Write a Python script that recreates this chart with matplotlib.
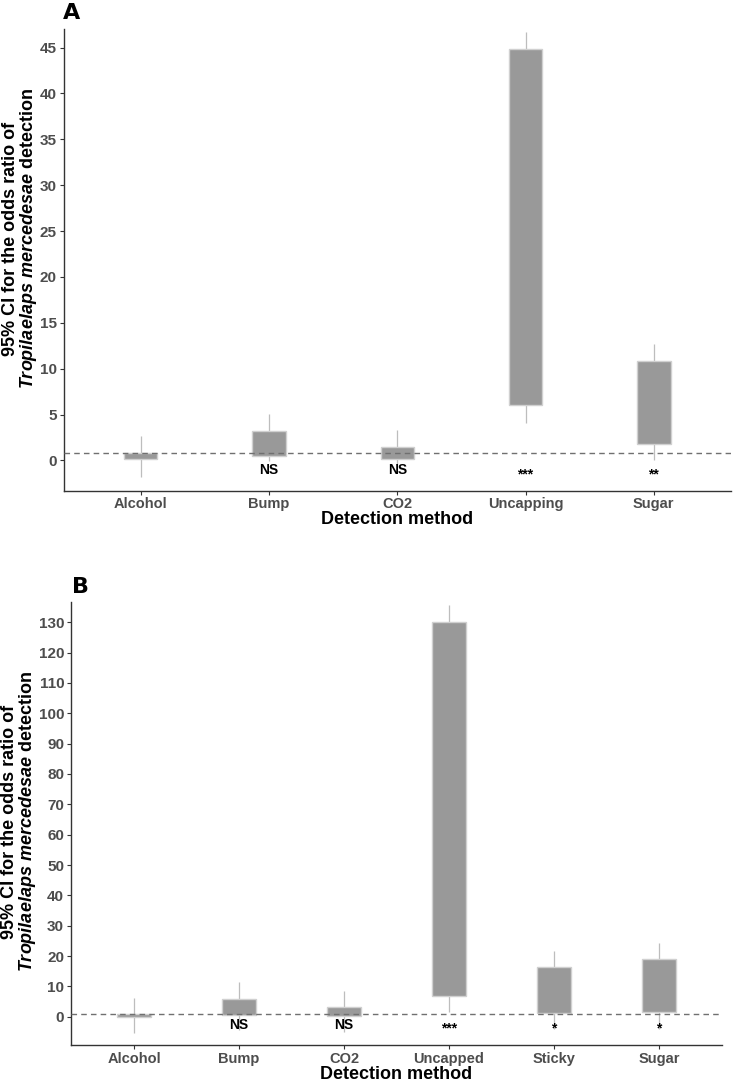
import matplotlib
matplotlib.use("Agg")
import matplotlib.pyplot as plt

plt.rcParams['font.family'] = ['Liberation Sans', 'DejaVu Sans']
plt.rcParams['mathtext.fontset'] = 'custom'
plt.rcParams['mathtext.it'] = 'Liberation Sans:italic:bold'
plt.rcParams['mathtext.rm'] = 'Liberation Sans:bold'
plt.rcParams['mathtext.bf'] = 'Liberation Sans:bold'

# Panel A data (odds ratio 95% CI)
methods_a = ["Alcohol", "Bump", "CO2", "Uncapping", "Sugar"]
a_low = [-1.8, -0.1, -0.5, 4.1, 0.1]
a_lower = [0.18, 0.54, 0.2, 6.0, 1.8]
a_upper = [0.83, 3.2, 1.45, 44.8, 10.8]
a_high = [2.7, 5.1, 3.3, 46.7, 12.7]
a_sig = ["", "NS", "NS", "***", "**"]

# Panel B data
methods_b = ["Alcohol", "Bump", "CO2", "Uncapped", "Sticky", "Sugar"]
b_low = [-5.3, -4.5, -5.1, 1.7, -4.0, -4.0]
b_lower = [0.0, 0.6, 0.2, 6.9, 1.25, 1.5]
b_upper = [0.8, 6.0, 3.3, 130.0, 16.3, 19.1]
b_high = [6.2, 11.4, 8.5, 135.8, 21.6, 24.4]
b_sig = ["", "NS", "NS", "***", "*", "*"]

ylabel = ("95% CI for the odds ratio of\n"
          r"$\it{Tropilaelaps}$ $\it{mercedesae}$ detection")


def draw_panel(ax, methods, low, lower, upper, high, sig, width, ref, ylim,
               ticks, ns_y, star_y):
    x = list(range(1, len(methods) + 1))
    ax.vlines(x, low, high, color="#bdbdbd", lw=0.9, zorder=1)
    heights = [u - l for u, l in zip(upper, lower)]
    ax.bar(x, heights, bottom=lower, width=width, color="#999999",
           edgecolor="#d0d0d0", linewidth=1.0, zorder=2)
    ax.axhline(ref, color="#707070", lw=1.0, ls=(0, (4, 3)), zorder=3)
    for xi, s in zip(x, sig):
        if not s:
            continue
        yy = ns_y if s == "NS" else star_y
        ax.text(xi, yy, s, ha="center", va="center", fontsize=10,
                fontweight="bold", color="black", zorder=4)
    ax.set_xlim(0.4, len(methods) + 0.6)
    ax.set_ylim(*ylim)
    ax.set_yticks(ticks)
    ax.set_xticks(x)
    ax.set_xticklabels(methods)
    for sp in ["top", "right"]:
        ax.spines[sp].set_visible(False)
    for sp in ["left", "bottom"]:
        ax.spines[sp].set_color("#333333")
        ax.spines[sp].set_linewidth(1.0)
    ax.tick_params(axis="x", length=3, color="#333333", labelsize=10.5,
                   labelcolor="#4d4d4d", pad=1.5)
    ax.tick_params(axis="y", length=3, color="#333333", labelsize=11,
                   labelcolor="#4d4d4d", pad=2)
    for lab in ax.get_xticklabels() + ax.get_yticklabels():
        lab.set_fontweight("bold")
    ax.set_xlabel("Detection method", fontsize=13, fontweight="bold",
                  labelpad=0)


fig = plt.figure(figsize=(7.33, 10.81), dpi=100)

ax_a = fig.add_axes([0.087, 0.546, 0.91, 0.427])
draw_panel(ax_a, methods_a, a_low, a_lower, a_upper, a_high, a_sig, 0.26,
           0.85, (-3.3, 47.0), range(0, 50, 5), -1.0, -1.5)

ax_b = fig.add_axes([0.097, 0.033, 0.888, 0.41])
draw_panel(ax_b, methods_b, b_low, b_lower, b_upper, b_high, b_sig, 0.32,
           0.8, (-9.4, 136.6), range(0, 140, 10), -2.6, -4.0)

fig.text(0.028, 0.779, ylabel, rotation=90, ha="center", va="center",
         multialignment="center", fontsize=13, fontweight="bold",
         linespacing=0.95)
fig.text(0.027, 0.24, ylabel, rotation=90, ha="center", va="center",
         multialignment="center", fontsize=13, fontweight="bold",
         linespacing=0.95)

fig.text(0.086, 0.997, "A", ha="left", va="top", fontsize=16,
         fontweight="bold", family=["DejaVu Sans"])
fig.text(0.098, 0.466, "B", ha="left", va="top", fontsize=16,
         fontweight="bold", family=["DejaVu Sans"])

fig.savefig("out.png", dpi=100, facecolor="white")
